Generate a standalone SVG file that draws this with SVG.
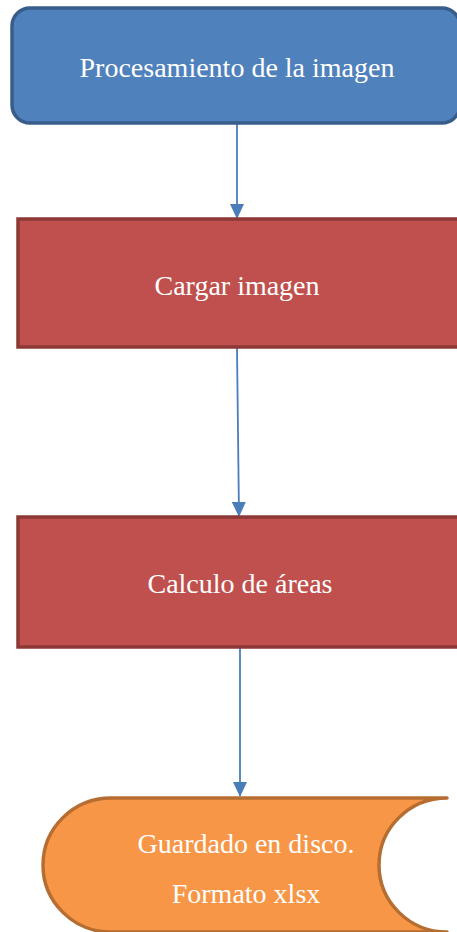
<svg xmlns="http://www.w3.org/2000/svg" width="457" height="932" viewBox="0 0 457 932">
<style>
  .lbl { font-family: "Liberation Serif", "Times New Roman", serif; font-size: 28px; fill: #ffffff; text-anchor: middle; }
  .proc { fill: #c0504d; stroke: #8c3836; stroke-width: 3.5; }
  .conn { stroke: #4a7ebb; stroke-width: 1.8; fill: none; marker-end: url(#arr); }
</style>
<defs>
  <marker id="arr" markerWidth="15" markerHeight="14" refX="14" refY="7" orient="auto" markerUnits="userSpaceOnUse">
    <path d="M0,0 L15,7 L0,14 z" fill="#4a7ebb"/>
  </marker>
</defs>
<rect width="457" height="932" fill="#ffffff"/>
<g id="connectors">
  <line class="conn" x1="237" y1="123" x2="237" y2="218"/>
  <line class="conn" x1="237" y1="348" x2="239" y2="516"/>
  <line class="conn" x1="240" y1="648" x2="240" y2="796"/>
</g>
<g id="n1">
  <rect x="12" y="8" width="448" height="115" rx="18" ry="18" fill="#4f81bd" stroke="#385d8a" stroke-width="3.5"/>
  <text class="lbl" x="237" y="77">Procesamiento de la imagen</text>
</g>
<g id="n2">
  <rect class="proc" x="18" y="219" width="444" height="128"/>
  <text class="lbl" x="237" y="295">Cargar imagen</text>
</g>
<g id="n3">
  <rect class="proc" x="18" y="517" width="444" height="130"/>
  <text class="lbl" x="240" y="593">Calculo de áreas</text>
</g>
<g id="n4">
  <path d="M111,798 L447,798 A68,67 0 0 0 447,932 L111,932 A68,67 0 0 1 111,798 Z" fill="#f79646" stroke="#b66d31" stroke-width="3.5" stroke-linejoin="round" stroke-linecap="round"/>
  <text class="lbl" x="246" y="853">Guardado en disco.</text>
  <text class="lbl" x="246" y="903">Formato xlsx</text>
</g>
</svg>
